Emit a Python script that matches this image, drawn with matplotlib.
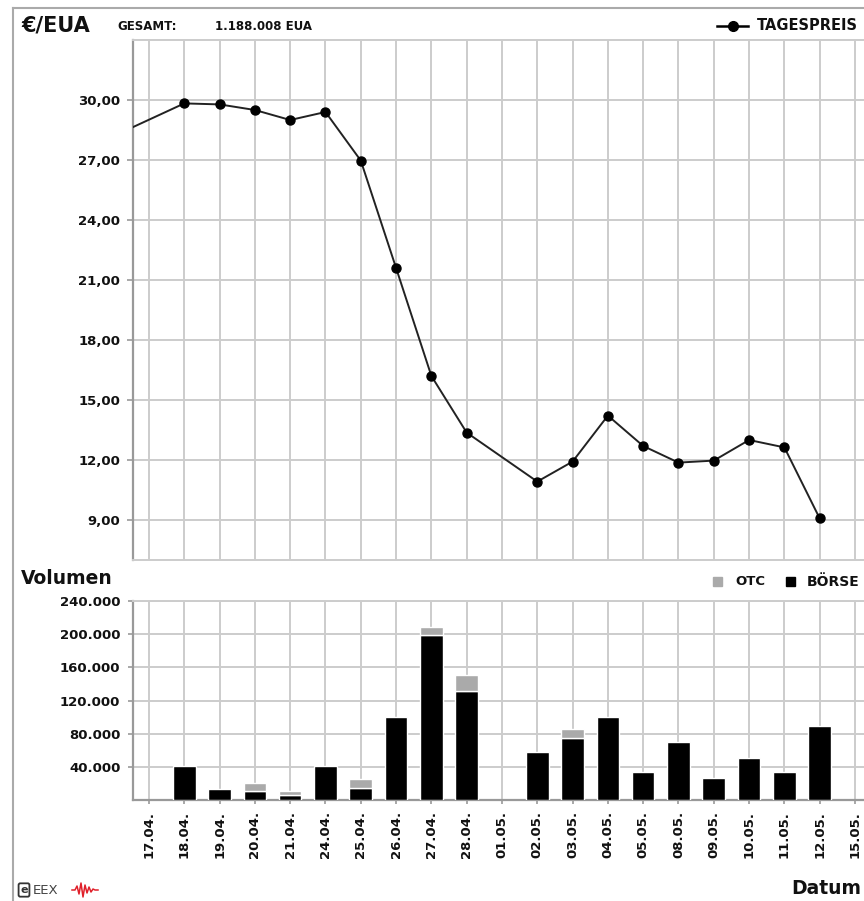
import matplotlib
matplotlib.use("Agg")
import matplotlib.pyplot as plt
from matplotlib.lines import Line2D
from matplotlib.patches import Rectangle

# x-axis days (17.04. and 01.05. are holidays without trading)
dates = ["17.04.", "18.04.", "19.04.", "20.04.", "21.04.", "24.04.", "25.04.",
         "26.04.", "27.04.", "28.04.", "01.05.", "02.05.", "03.05.", "04.05.",
         "05.05.", "08.05.", "09.05.", "10.05.", "11.05.", "12.05.", "15.05."]

# Tagespreis in EUR/EUA, None = no price that day
price = [None, 29.83, 29.78, 29.50, 29.00, 29.40, 26.97, 21.60, 16.20, 13.37,
         None, 10.92, 11.92, 14.22, 12.70, 11.87, 11.97, 13.00, 12.63, 9.08, None]
# price of the trading day before the window (13.04.), only its line shows
prev_price = 28.2

# volumes in EUA
boerse = [0, 41500, 12900, 10500, 5700, 41500, 14900, 100000, 198500, 131000,
          0, 58400, 75300, 99500, 34200, 70500, 27000, 51100, 34200, 89800, 0]
otc = [0, 0, 0, 9700, 4800, 0, 10100, 0, 9700, 19200,
       0, 0, 10100, 0, 0, 0, 0, 0, 0, 0, 0]

price_ticks = [9, 12, 15, 18, 21, 24, 27, 30]
price_labels = ["9,00", "12,00", "15,00", "18,00", "21,00", "24,00", "27,00", "30,00"]
vol_ticks = [40000, 80000, 120000, 160000, 200000, 240000]
vol_labels = ["40.000", "80.000", "120.000", "160.000", "200.000", "240.000"]

W, H = 864, 901
GRID = "#cccccc"
SPINE = "#999999"
TXT = "#111111"
FONT = "DejaVu Sans"
TICKSIZE = 9.5


def fx(px):
    return px / W


def fy(py):
    return 1 - py / H


fig = plt.figure(figsize=(W / 100, H / 100), dpi=100)
fig.patch.set_facecolor("white")

# outer frame (left and top edge visible)
fig.add_artist(Line2D([fx(13), fx(13)], [0, fy(8)], color="#aaaaaa", lw=1.5))
fig.add_artist(Line2D([fx(13), 1], [fy(8), fy(8)], color="#aaaaaa", lw=1.5))

n = len(dates)
xs = list(range(n))
xlim = (-0.453, 20.45)
ax_w = (xlim[1] - xlim[0]) * 35.3 / W

# ---- price chart ----
ax1 = fig.add_axes([fx(133), fy(560), ax_w, 520 / H])
px_ = [-1] + [i for i, p in enumerate(price) if p is not None]
py_ = [prev_price] + [p for p in price if p is not None]
ax1.plot(px_, py_, color="#222222", lw=1.4, marker="o", markersize=6.5,
         markerfacecolor="black", markeredgecolor="black", zorder=3)
ax1.set_xlim(*xlim)
ax1.set_ylim(7, 33)
ax1.set_xticks(xs)
ax1.set_xticklabels([])
ax1.set_yticks(price_ticks)
ax1.set_yticklabels(price_labels, fontsize=TICKSIZE, fontweight="bold",
                    family=FONT, color=TXT)
ax1.tick_params(axis="x", length=0)
ax1.tick_params(axis="y", length=4.3, width=1.2, color=SPINE, pad=5)
ax1.grid(True, color=GRID, lw=1.4)
ax1.set_axisbelow(True)
for s in ["top", "bottom", "right"]:
    ax1.spines[s].set_color(GRID)
    ax1.spines[s].set_linewidth(1.4)
ax1.spines["left"].set_color(SPINE)
ax1.spines["left"].set_linewidth(1.6)

# ---- volume chart ----
ax2 = fig.add_axes([fx(133), fy(800), ax_w, 199 / H])
bx = [i for i in xs if boerse[i] > 0]
ax2.bar(bx, [boerse[i] for i in bx], width=0.64, color="black",
        edgecolor="white", lw=1, zorder=3)
ox = [i for i in xs if otc[i] > 0]
ax2.bar(ox, [otc[i] for i in ox], width=0.64, bottom=[boerse[i] for i in ox],
        color="#aaaaaa", edgecolor="white", lw=1, zorder=3)
ax2.set_xlim(*xlim)
ax2.set_ylim(0, 240000)
ax2.set_xticks(xs)
ax2.set_xticklabels(dates, rotation=90, fontsize=TICKSIZE, fontweight="bold",
                    family=FONT, color=TXT)
ax2.set_yticks(vol_ticks)
ax2.set_yticklabels(vol_labels, fontsize=TICKSIZE, fontweight="bold",
                    family=FONT, color=TXT)
ax2.tick_params(axis="x", length=3, width=1.2, color=SPINE, pad=5)
ax2.tick_params(axis="y", length=3.6, width=1.2, color=SPINE, pad=5.5)
ax2.grid(True, color=GRID, lw=1.4)
ax2.set_axisbelow(True)
for s in ["top", "right"]:
    ax2.spines[s].set_color(GRID)
    ax2.spines[s].set_linewidth(1.4)
for s in ["left", "bottom"]:
    ax2.spines[s].set_color(SPINE)
    ax2.spines[s].set_linewidth(1.6)

# ---- header texts ----
fig.text(fx(21), fy(25.5), "€/EUA", fontsize=15, fontweight="bold", family=FONT,
         color=TXT, va="center", ha="left")
fig.text(fx(117), fy(26), "GESAMT:", fontsize=8.5, fontweight="bold", family=FONT,
         color=TXT, va="center", ha="left")
fig.text(fx(215), fy(26), "1.188.008 EUA", fontsize=8.5, fontweight="bold",
         family=FONT, color=TXT, va="center", ha="left")

# legend of the price chart
fig.add_artist(Line2D([fx(717), fx(748)], [fy(26), fy(26)], color="black", lw=1.8))
fig.add_artist(Line2D([fx(733)], [fy(26)], color="black", marker="o", markersize=7))
fig.text(fx(757), fy(26), "TAGESPREIS", fontsize=10.5, fontweight="bold",
         family=FONT, color=TXT, va="center", ha="left")

# volume header and legend
fig.text(fx(21), fy(579), "Volumen", fontsize=13.5, fontweight="bold", family=FONT,
         color=TXT, va="center", ha="left")
fig.add_artist(Rectangle((fx(713), fy(586)), 9 / W, 9 / H, color="#aaaaaa"))
fig.text(fx(735), fy(581.5), "OTC", fontsize=TICKSIZE, fontweight="bold",
         family=FONT, color=TXT, va="center", ha="left")
fig.add_artist(Rectangle((fx(786), fy(586)), 9 / W, 9 / H, color="black"))
fig.text(fx(807), fy(581.5), "BÖRSE", fontsize=10, fontweight="bold",
         family=FONT, color=TXT, va="center", ha="left")

# footer
fig.text(fx(791), fy(889), "Datum", fontsize=13.5, fontweight="bold", family=FONT,
         color=TXT, va="center", ha="left")
fig.text(fx(24), fy(890), "e", fontsize=8, fontweight="bold", family=FONT,
         color="#333333", va="center", ha="center",
         bbox=dict(boxstyle="round,pad=0.15", fc="white", ec="#333333", lw=1.3))
fig.text(fx(33), fy(890), "EEX", fontsize=9.5, family=FONT, color="#444444",
         va="center", ha="left")
zig_x = [72, 75, 77, 79, 81, 83, 85, 87, 89, 91, 93, 95, 98]
zig_y = [890, 890, 886, 894, 883, 897, 885, 893, 887, 892, 889, 890, 890]
fig.add_artist(Line2D([fx(v) for v in zig_x], [fy(v) for v in zig_y],
                      color="#e0202a", lw=1.1))

fig.savefig("out.png", dpi=100, facecolor="white")
